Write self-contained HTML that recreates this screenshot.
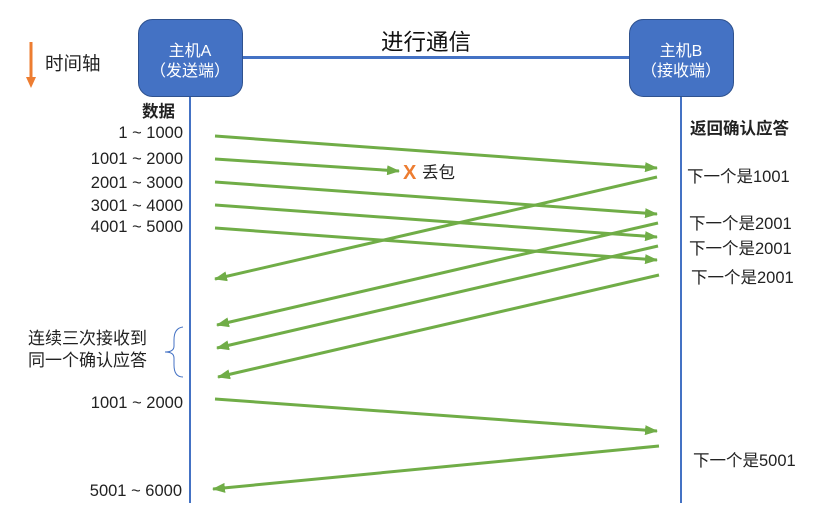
<!DOCTYPE html>
<html><head><meta charset="utf-8"><style>
html,body{margin:0;padding:0;background:#fff;}
svg{display:block;}
text{font-family:"Liberation Sans","Noto Sans CJK SC",sans-serif;}
</style></head><body>
<svg width="839" height="510" viewBox="0 0 839 510" xmlns="http://www.w3.org/2000/svg">
<defs>
<marker id="ah" markerWidth="13" markerHeight="10" refX="12" refY="5" orient="auto" markerUnits="userSpaceOnUse">
<path d="M0,0 L13,5 L0,10 Z" fill="#70ad47"/></marker>
</defs>
<!-- time axis -->
<line x1="31" y1="42" x2="31" y2="78" stroke="#ed7d31" stroke-width="3"/>
<path d="M26,77 L36,77 L31,88 Z" fill="#ed7d31"/>
<text x="45" y="70" font-size="18.5" fill="#222">时间轴</text>
<!-- connection line -->
<line x1="242" y1="57.5" x2="629" y2="57.5" stroke="#4472c4" stroke-width="3"/>
<text x="426" y="50" font-size="22.5" fill="#111" text-anchor="middle">进行通信</text>
<!-- lifelines -->
<line x1="190" y1="96" x2="190" y2="503" stroke="#4472c4" stroke-width="2"/>
<line x1="681" y1="96" x2="681" y2="503" stroke="#4472c4" stroke-width="2"/>
<!-- boxes -->
<rect x="138.5" y="19.5" width="104" height="77" rx="14" fill="#4472c4" stroke="#2f528f"/>
<text x="190" y="56" font-size="16" fill="#fff" text-anchor="middle">主机A</text>
<text x="190" y="76" font-size="16" fill="#fff" text-anchor="middle">（发送端）</text>
<rect x="629.5" y="19.5" width="104" height="77" rx="14" fill="#4472c4" stroke="#2f528f"/>
<text x="681" y="56" font-size="16" fill="#fff" text-anchor="middle">主机B</text>
<text x="681" y="76" font-size="16" fill="#fff" text-anchor="middle">（接收端）</text>
<!-- labels left -->
<g font-size="16.5" fill="#222" text-anchor="end">
<text x="175" y="117" font-weight="bold">数据</text>
<text x="183" y="138">1 ~ 1000</text>
<text x="183" y="164">1001 ~ 2000</text>
<text x="183" y="188">2001 ~ 3000</text>
<text x="183" y="211">3001 ~ 4000</text>
<text x="183" y="232">4001 ~ 5000</text>
<text x="183" y="408">1001 ~ 2000</text>
<text x="182" y="496">5001 ~ 6000</text>
</g>
<g font-size="16.5" fill="#222">
<text x="28" y="344" font-size="17">连续三次接收到</text>
<text x="28" y="366" font-size="17">同一个确认应答</text>
<text x="690" y="134" font-weight="bold">返回确认应答</text>
<text x="687" y="182">下一个是1001</text>
<text x="689" y="229">下一个是2001</text>
<text x="689" y="254">下一个是2001</text>
<text x="691" y="283">下一个是2001</text>
<text x="693" y="466">下一个是5001</text>
<text x="422" y="178">丢包</text>
</g>
<text x="403" y="179" font-size="20" font-weight="bold" fill="#ed7d31">X</text>
<!-- brace -->
<path d="M183,327 Q174,328 174,340 L174,346 Q174,352 165,352 Q174,352 174,358 L174,365 Q174,377 183,377" fill="none" stroke="#4472c4" stroke-width="1"/>
<!-- arrows -->
<g stroke="#70ad47" stroke-width="3" fill="none" marker-end="url(#ah)">
<line x1="215" y1="136" x2="657" y2="168"/>
<line x1="215" y1="159" x2="399" y2="171"/>
<line x1="215" y1="182" x2="657" y2="214"/>
<line x1="215" y1="205" x2="657" y2="237"/>
<line x1="215" y1="228" x2="657" y2="260"/>
<line x1="657" y1="177" x2="215" y2="279"/>
<line x1="658" y1="223" x2="217" y2="325"/>
<line x1="658" y1="246" x2="217" y2="348"/>
<line x1="659" y1="275" x2="218" y2="377"/>
<line x1="215" y1="399" x2="657" y2="431"/>
<line x1="659" y1="446" x2="213" y2="489"/>
</g>
</svg>
</body></html>
